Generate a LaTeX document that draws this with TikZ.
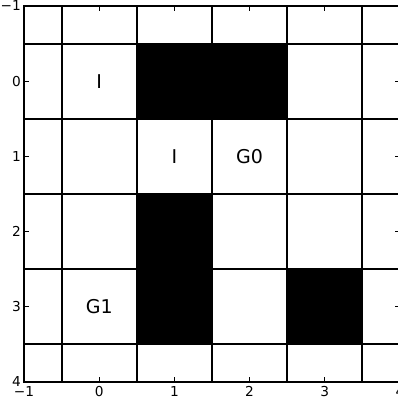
\documentclass[tikz,border=0pt]{standalone}
\usepackage{fontspec}
\setmainfont{DejaVu Sans}
\begin{document}
\begin{tikzpicture}[x=75.2pt,y=-75.2pt,
  gridline/.style={line width=2pt,black},
  spine/.style={line width=1.2pt,black},
  tickmark/.style={line width=1pt,black},
  ticklbl/.style={inner sep=0pt,font=\fontsize{13.7}{16}\selectfont},
  celllbl/.style={inner sep=0pt,font=\fontsize{19}{22}\selectfont}]
\useasboundingbox (-1.3191,-1.0798) rectangle (3.9734,4.2128);
% blocked cells
\fill[black] (0.5,-0.5) rectangle (2.5,0.5);
\fill[black] (0.5,1.5) rectangle (1.5,3.5);
\fill[black] (2.5,2.5) rectangle (3.5,3.5);
% grid
\foreach \v in {-0.5,0.5,1.5,2.5,3.5}{
  \draw[gridline] (\v,-1) -- (\v,4);
  \draw[gridline] (-1,\v) -- (4,\v);
}
% spines
\draw[spine] (-1,-1) rectangle (4,4);
% ticks
\foreach \t/\l in {-1/−1,0/0,1/1,2/2,3/3,4/4}{
  \draw[tickmark] (\t,4) -- ++(0,5pt);
  \draw[tickmark] (\t,-1) -- ++(0,-5pt);
  \draw[tickmark] (-1,\t) -- ++(5pt,0);
  \draw[tickmark] (4,\t) -- ++(-5pt,0);
  \node[ticklbl,anchor=north] (xt\t) at ([yshift=-4pt]\t,4) {\l};
  \node[ticklbl,anchor=east] (yt\t) at ([xshift=-3pt]-1,\t) {\l};
}
% cell labels
\node[celllbl] (i0) at (0,0) {I};
\node[celllbl] (i1) at (1,1) {I};
\node[celllbl] (g0) at (2,1) {G0};
\node[celllbl] (g1) at (0,3) {G1};
\end{tikzpicture}
\end{document}
